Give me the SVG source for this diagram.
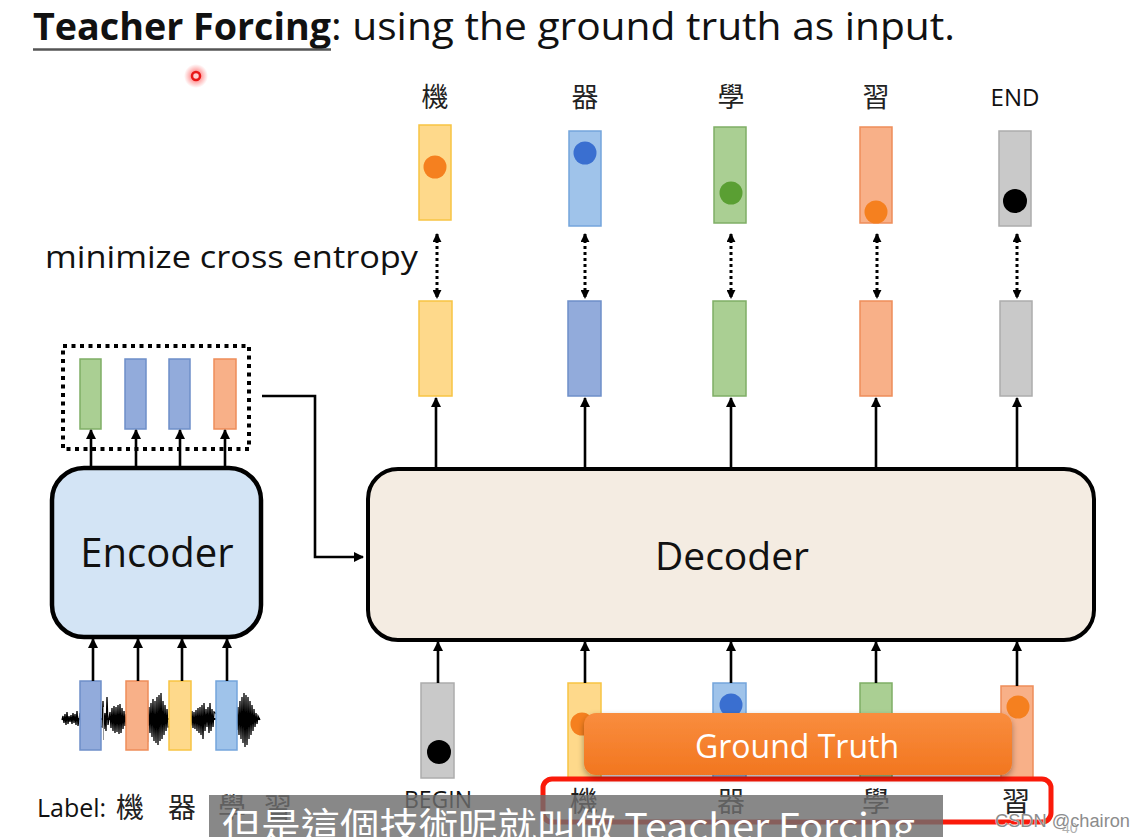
<svg xmlns="http://www.w3.org/2000/svg" width="1145" height="837" viewBox="0 0 1145 837">
<style>
.lat{font-family:"Open Sans","Liberation Sans",sans-serif;fill:#111}
.cjk{font-family:"Noto Sans CJK TC","Noto Sans CJK SC",sans-serif;fill:#222}
.arr{stroke:#000;stroke-width:2.6;fill:none;marker-end:url(#ah)}
.dot{stroke:#000;stroke-width:3;stroke-dasharray:3 3;fill:none;marker-start:url(#ah2);marker-end:url(#ah2)}
.y{fill:#fed98b;stroke:#f7c443;stroke-width:1.5}
.b1{fill:#9fc3ea;stroke:#74a5dc;stroke-width:1.5}
.b2{fill:#92abdb;stroke:#6e8fc9;stroke-width:1.5}
.g{fill:#aacf93;stroke:#7fae66;stroke-width:1.5}
.o{fill:#f8b088;stroke:#ee8d5a;stroke-width:1.5}
.gr{fill:#c9c9c9;stroke:#acacac;stroke-width:1.5}
</style>
<defs>
<marker id="ah" viewBox="0 0 10 10" refX="9" refY="5" markerWidth="10" markerHeight="10" markerUnits="userSpaceOnUse" orient="auto"><path d="M0,0 L10,5 L0,10 z" fill="#000"/></marker>
<marker id="ah2" viewBox="0 0 10 10" refX="9" refY="5" markerWidth="9" markerHeight="9" markerUnits="userSpaceOnUse" orient="auto-start-reverse"><path d="M0,0 L10,5 L0,10 z" fill="#000"/></marker>
<radialGradient id="glow"><stop offset="0" stop-color="#ff2020" stop-opacity="0.8"/><stop offset="1" stop-color="#ff4040" stop-opacity="0"/></radialGradient>
<linearGradient id="gt" x1="0" y1="0" x2="0" y2="1"><stop offset="0" stop-color="#f98d3e"/><stop offset="1" stop-color="#f2761f"/></linearGradient>
<filter id="sh" x="-10%" y="-20%" width="120%" height="160%"><feDropShadow dx="0" dy="3" stdDeviation="3" flood-color="#000" flood-opacity="0.35"/></filter>
</defs>
<rect width="1145" height="837" fill="#fff"/>

<g id="title">
<text class="lat" x="33" y="40" font-size="38" font-weight="bold" textLength="298" lengthAdjust="spacingAndGlyphs">Teacher Forcing</text>
<text class="lat" x="331" y="40" font-size="38" textLength="624" lengthAdjust="spacingAndGlyphs">: using the ground truth as input.</text>
<line x1="33" y1="49.5" x2="331" y2="49.5" stroke="#555" stroke-width="2.5"/>
</g>

<g id="laser">
<circle cx="196" cy="76" r="12" fill="url(#glow)"/>
<circle cx="196" cy="76" r="4" fill="#ffd0d0" stroke="#e81818" stroke-width="2.5"/>
</g>

<g id="output-labels">
<text class="cjk" x="435" y="107" font-size="27" text-anchor="middle">機</text>
<text class="cjk" x="585" y="107" font-size="27" text-anchor="middle">器</text>
<text class="cjk" x="731" y="107" font-size="27" text-anchor="middle">學</text>
<text class="cjk" x="876" y="107" font-size="27" text-anchor="middle">習</text>
<text class="lat" x="1015" y="106" font-size="24" text-anchor="middle">END</text>
</g>

<g id="targets">
<rect class="y" x="419" y="125" width="32" height="95"/><circle cx="435" cy="167" r="11.5" fill="#f5801f"/>
<rect class="b1" x="569" y="131" width="32" height="95"/><circle cx="585" cy="153" r="11.5" fill="#3a6fd0"/>
<rect class="g" x="714" y="127" width="32" height="96"/><circle cx="731" cy="193" r="11.5" fill="#5a9f33"/>
<rect class="o" x="860" y="127" width="32" height="96"/><circle cx="876" cy="212" r="11.5" fill="#f5801f"/>
<rect class="gr" x="999" y="131" width="32" height="95"/><circle cx="1015" cy="201" r="12" fill="#000"/>
</g>

<text class="lat" x="45" y="268" font-size="30.5" textLength="373" lengthAdjust="spacingAndGlyphs">minimize cross entropy</text>

<g id="outputs">
<rect class="y" x="419" y="301" width="33" height="95"/>
<rect class="b2" x="568" y="301" width="33" height="95"/>
<rect class="g" x="713" y="301" width="33" height="95"/>
<rect class="o" x="860" y="301" width="32" height="95"/>
<rect class="gr" x="1000" y="301" width="32" height="95"/>
</g>

<g id="decoder">
<rect x="368" y="469" width="726" height="171" rx="30" fill="#f4ece2" stroke="#000" stroke-width="4"/>
<text class="lat" x="732" y="570" font-size="39" text-anchor="middle">Decoder</text>
</g>

<g id="encoder">
<rect x="52" y="468" width="209" height="169" rx="32" fill="#d3e4f5" stroke="#000" stroke-width="4.5"/>
<text class="lat" x="157" y="567" font-size="40" text-anchor="middle">Encoder</text>
</g>

<g id="enc-outputs">
<rect x="63" y="346" width="186" height="103" fill="none" stroke="#000" stroke-width="4" stroke-dasharray="4 4.5"/>
<rect class="g" x="80" y="359" width="21" height="70"/>
<rect class="b2" x="125" y="359" width="21" height="70"/>
<rect class="b2" x="169" y="359" width="21" height="70"/>
<rect class="o" x="214" y="359" width="22" height="70"/>
</g>

<g id="speech">
<path d="M62,719 H260" stroke="#000" stroke-width="1.8"/>
<path fill="none" stroke="#000" stroke-width="1.3" d="M62,720 L63,716 L64,723 L65,714 L66,725 L67,712 L68,724 L69,716 L70,722 L71,715 L72,724 L73,713 L74,723 L75,714 L76,725 L77,711 L78,726 L80,713 L84,726 L88,710 L92,728 L96,711 L100,726 L102,727 L103,701 L104,729 L105,713 L106,731 L107,697 L108,725 L110,712 L111,728 L112,708 L113,731 L114,706 L115,733 L116,707 L117,732 L118,705 L119,734 L120,704 L121,733 L122,708 L123,729 L124,711 L125,726 L126,715 L148,725 L149,707 L150,733 L151,703 L152,737 L153,699 L154,741 L155,701 L156,743 L157,697 L158,745 L159,695 L160,741 L161,693 L162,739 L163,701 L164,735 L165,705 L166,731 L167,709 L168,727 L191,725 L192,711 L193,728 L194,712 L195,729 L196,710 L197,731 L198,708 L199,733 L200,707 L201,735 L202,705 L203,739 L204,703 L205,731 L206,709 L207,727 L208,707 L209,733 L210,703 L211,731 L212,709 L213,727 L214,712 L237,729 L238,707 L239,735 L240,701 L241,739 L242,697 L243,743 L244,693 L245,747 L246,695 L247,745 L248,697 L249,739 L250,701 L251,735 L252,705 L253,731 L254,709 L255,727 L256,713 L257,724 L258,716 L260,720"/>
<line x1="103.5" y1="707" x2="103.5" y2="740" stroke="#999" stroke-width="1"/>
<line x1="148" y1="700" x2="148" y2="742" stroke="#999" stroke-width="1"/>
<rect class="b2" x="80" y="681" width="21" height="69"/>
<rect class="o" x="126" y="681" width="22" height="69"/>
<rect class="y" x="169" y="681" width="22" height="69"/>
<rect class="b1" x="216" y="681" width="21" height="69"/>
</g>

<g id="dec-inputs">
<rect class="gr" x="421" y="683" width="33" height="95"/><circle cx="439" cy="752" r="12" fill="#000"/>
<rect class="y" x="568" y="683" width="33" height="95"/><circle cx="582" cy="724" r="11.5" fill="#f5801f"/>
<rect class="b1" x="713" y="683" width="33" height="95"/><circle cx="731" cy="705" r="11.5" fill="#3a6fd0"/>
<rect class="g" x="860" y="683" width="32" height="95"/>
<rect class="o" x="1001" y="686" width="32" height="92"/><circle cx="1018" cy="707" r="11.5" fill="#f5801f"/>
<text class="lat" x="438" y="808" font-size="23" text-anchor="middle">BEGIN</text>
</g>

<g id="connectors">
<line class="dot" x1="437" y1="234" x2="437" y2="298"/>
<line class="dot" x1="585" y1="234" x2="585" y2="298"/>
<line class="dot" x1="731" y1="234" x2="731" y2="298"/>
<line class="dot" x1="877" y1="234" x2="877" y2="298"/>
<line class="dot" x1="1017" y1="234" x2="1017" y2="298"/>
<line class="arr" x1="436" y1="468" x2="436" y2="398"/>
<line class="arr" x1="585" y1="468" x2="585" y2="398"/>
<line class="arr" x1="731" y1="468" x2="731" y2="398"/>
<line class="arr" x1="876" y1="468" x2="876" y2="398"/>
<line class="arr" x1="1017" y1="468" x2="1017" y2="398"/>
<line class="arr" x1="438" y1="683" x2="438" y2="642"/>
<line class="arr" x1="585" y1="683" x2="585" y2="642"/>
<line class="arr" x1="731" y1="683" x2="731" y2="642"/>
<line class="arr" x1="876" y1="683" x2="876" y2="642"/>
<line class="arr" x1="1017" y1="686" x2="1017" y2="642"/>
<line class="arr" x1="91" y1="467" x2="91" y2="430"/>
<line class="arr" x1="136" y1="467" x2="136" y2="430"/>
<line class="arr" x1="180" y1="467" x2="180" y2="430"/>
<line class="arr" x1="225" y1="467" x2="225" y2="430"/>
<line class="arr" x1="93" y1="681" x2="93" y2="639"/>
<line class="arr" x1="138" y1="681" x2="138" y2="639"/>
<line class="arr" x1="182" y1="681" x2="182" y2="639"/>
<line class="arr" x1="227" y1="681" x2="227" y2="639"/>
<path class="arr" d="M262,396 H315 V557 H363"/>
</g>

<g id="label-text">
<text class="lat" x="37" y="817" font-size="25">Label:</text>
<text class="cjk" x="130" y="818" font-size="28" text-anchor="middle">機</text>
<text class="cjk" x="182" y="818" font-size="28" text-anchor="middle">器</text>
<text class="cjk" x="232" y="818" font-size="28" text-anchor="middle">學</text>
<text class="cjk" x="278" y="818" font-size="28" text-anchor="middle">習</text>
</g>

<g id="ground-truth-labels">
<rect x="543" y="779" width="508" height="43" rx="9" fill="none" stroke="#fa1a0a" stroke-width="5"/>
<text class="cjk" x="584" y="812" font-size="28" text-anchor="middle">機</text>
<text class="cjk" x="731" y="812" font-size="28" text-anchor="middle">器</text>
<text class="cjk" x="876" y="812" font-size="28" text-anchor="middle">學</text>
<text class="cjk" x="1016" y="812" font-size="28" text-anchor="middle">習</text>
</g>

<g id="ground-truth">
<rect x="584" y="713" width="428" height="62" rx="12" fill="url(#gt)" filter="url(#sh)"/>
<text x="797" y="758" font-size="32" text-anchor="middle" font-family="Open Sans, Liberation Sans, sans-serif" fill="#fff">Ground Truth</text>
</g>

<g id="subtitle">
<rect x="209" y="795" width="734" height="42" fill="#6e6e6e" fill-opacity="0.82"/>
<text x="222" y="840" font-size="37" fill="#fff" font-family="Noto Sans CJK TC, Noto Sans CJK SC, sans-serif" textLength="693" lengthAdjust="spacingAndGlyphs">但是這個技術呢就叫做 Teacher Forcing</text>
</g>

<g id="watermark">
<text x="1062" y="833" font-size="14" fill="#b0b0b0" font-family="Liberation Sans, sans-serif">40</text>
<text x="995" y="827" font-size="18" fill="#8c8c8c" stroke="#fff" stroke-width="0.6" paint-order="stroke" font-family="Liberation Sans, sans-serif" textLength="135" lengthAdjust="spacingAndGlyphs">CSDN @chairon</text>
</g>
</svg>
